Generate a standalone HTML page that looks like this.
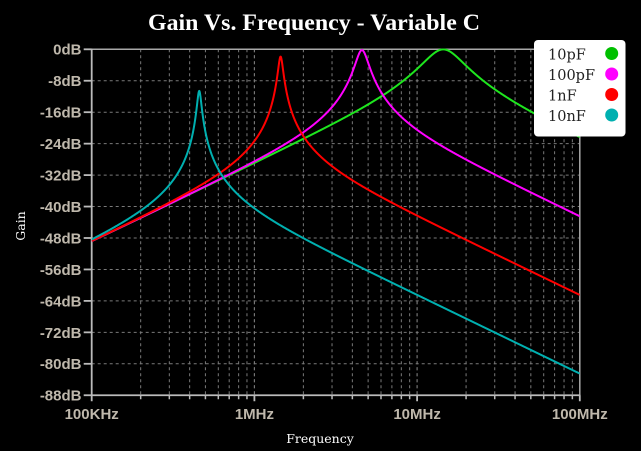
<!DOCTYPE html>
<html><head><meta charset="utf-8">
<style>
html,body{margin:0;padding:0;background:#000;}
svg{display:block;}
.tk{font-family:"Liberation Sans",Arial,sans-serif;font-weight:bold;font-size:15px;fill:#bfb8ac;}
</style></head>
<body>
<svg id="s" width="641" height="451" viewBox="0 0 641 451" xmlns="http://www.w3.org/2000/svg">
<rect x="0" y="0" width="641" height="451" fill="#000"/>
<defs><clipPath id="cp"><rect x="91.7" y="48.5" width="488" height="347"/></clipPath></defs>
<text x="314" y="30" text-anchor="middle" textLength="332" lengthAdjust="spacingAndGlyphs" font-family="Liberation Serif, serif" font-weight="bold" font-size="23" fill="#fff">Gain Vs. Frequency - Variable C</text>
<g id="grid"></g>
<g id="axes"></g>
<g id="curves" clip-path="url(#cp)" fill="none" stroke-width="2" stroke-linejoin="round"></g>
<text transform="translate(25,226) rotate(-90)" text-anchor="middle" font-family="DejaVu Serif, serif" font-size="12.5" fill="#fff">Gain</text>
<text x="320" y="443" text-anchor="middle" font-family="DejaVu Serif, serif" font-size="12.5" fill="#fff">Frequency</text>
<g>
<rect x="534" y="40" width="91.5" height="96.5" rx="4" fill="#fff"/>
<g font-family="DejaVu Serif, serif" font-size="14.5" fill="#222">
<text x="548" y="59.5">10pF</text>
<text x="548" y="80">100pF</text>
<text x="548" y="100.5">1nF</text>
<text x="548" y="121">10nF</text>
</g>
<circle cx="611.7" cy="53.5" r="6.5" fill="#00c000"/>
<circle cx="611.7" cy="74" r="6.5" fill="#ff00ff"/>
<circle cx="611.7" cy="94.5" r="6.5" fill="#ff0000"/>
<circle cx="611.7" cy="115" r="6.5" fill="#00b0b0"/>
</g>
</svg>
<script>
(function(){
var NS="http://www.w3.org/2000/svg";
var X0=91.7,DEC=162.7,Y0=49.3,PX8=31.45,XR=X0+3*DEC,YB=Y0+11*PX8;
function el(p,t,a,txt){var e=document.createElementNS(NS,t);for(var k in a)e.setAttribute(k,a[k]);if(txt!==undefined)e.textContent=txt;p.appendChild(e);return e;}
var grid=document.getElementById('grid'),axes=document.getElementById('axes'),curves=document.getElementById('curves');
for(var d=0;d<3;d++){for(var m=1;m<=10;m++){var x=X0+DEC*(d+Math.log10(m));if(m===1&&d===0)continue;if(x>XR-0.5)continue;
el(grid,'line',{x1:x,y1:Y0,x2:x,y2:YB,stroke:'#7a7a7a','stroke-width':1,'stroke-dasharray':'3,3'});}}
for(var i=1;i<11;i++){var y=Y0+i*PX8;el(grid,'line',{x1:X0,y1:y,x2:XR,y2:y,stroke:'#7a7a7a','stroke-width':1,'stroke-dasharray':'3,3'});}
el(axes,'line',{x1:X0,y1:Y0,x2:XR,y2:Y0,stroke:'#a8a8a8','stroke-width':1.5});
el(axes,'line',{x1:XR,y1:Y0,x2:XR,y2:YB,stroke:'#a8a8a8','stroke-width':1.5});
el(axes,'line',{x1:X0,y1:Y0-0.7,x2:X0,y2:YB+0.7,stroke:'#bbbbbb','stroke-width':1.8});
el(axes,'line',{x1:X0-0.7,y1:YB,x2:XR+0.7,y2:YB,stroke:'#bbbbbb','stroke-width':1.8});
for(var i=0;i<=11;i++){var y=Y0+i*PX8;el(axes,'line',{x1:X0-8,y1:y,x2:X0,y2:y,stroke:'#bbbbbb','stroke-width':1.8});
el(axes,'text',{x:81.5,y:y+5.4,'text-anchor':'end','class':'tk'},(i===0?'0':'-'+(8*i))+'dB');}
var labs=['100KHz','1MHz','10MHz','100MHz'];
for(var d=0;d<=3;d++){var x=X0+DEC*d;el(axes,'line',{x1:x,y1:YB,x2:x,y2:YB+6,stroke:'#bbbbbb','stroke-width':1.8});
el(axes,'text',{x:x,y:419,'text-anchor':'middle','class':'tk'},labs[d]);
if(d<3)for(var m=2;m<=9;m++){var xm=X0+DEC*(d+Math.log10(m));el(axes,'line',{x1:xm,y1:YB,x2:xm,y2:YB+4,stroke:'#bbbbbb','stroke-width':1.5});}}
var L=12.08e-6,R=2120,r=1.36;
function mul(a,b){return [a[0]*b[0]-a[1]*b[1],a[0]*b[1]+a[1]*b[0]];}
function div(a,b){var q=b[0]*b[0]+b[1]*b[1];return [(a[0]*b[0]+a[1]*b[1])/q,(a[1]*b[0]-a[0]*b[1])/q];}
function add(a,b){return [a[0]+b[0],a[1]+b[1]];}
function H(f,C){var w=2*Math.PI*f;var Zl=[r,w*L];var Zc=[0,-1/(w*C)];var Zt=div(mul(Zl,Zc),add(Zl,Zc));var h=div(Zt,add([R,0],Zt));return Math.sqrt(h[0]*h[0]+h[1]*h[1]);}
var series=[[10e-12,'#1ee61e'],[100e-12,'#ff00ff'],[1e-9,'#ff0000'],[10e-9,'#00b0b0']];
var N=2400;
series.forEach(function(s){var p='';for(var k=0;k<=N;k++){var lf=5+3*k/N;var f=Math.pow(10,lf);var db=20*Math.log10(H(f,s[0]));
var x=X0+DEC*(lf-5);var y=Y0-db*PX8/8;p+=(k?'L':'M')+x.toFixed(2)+','+y.toFixed(2);}
el(curves,'path',{d:p,stroke:s[1]});});
})();
</script>
</body></html>
